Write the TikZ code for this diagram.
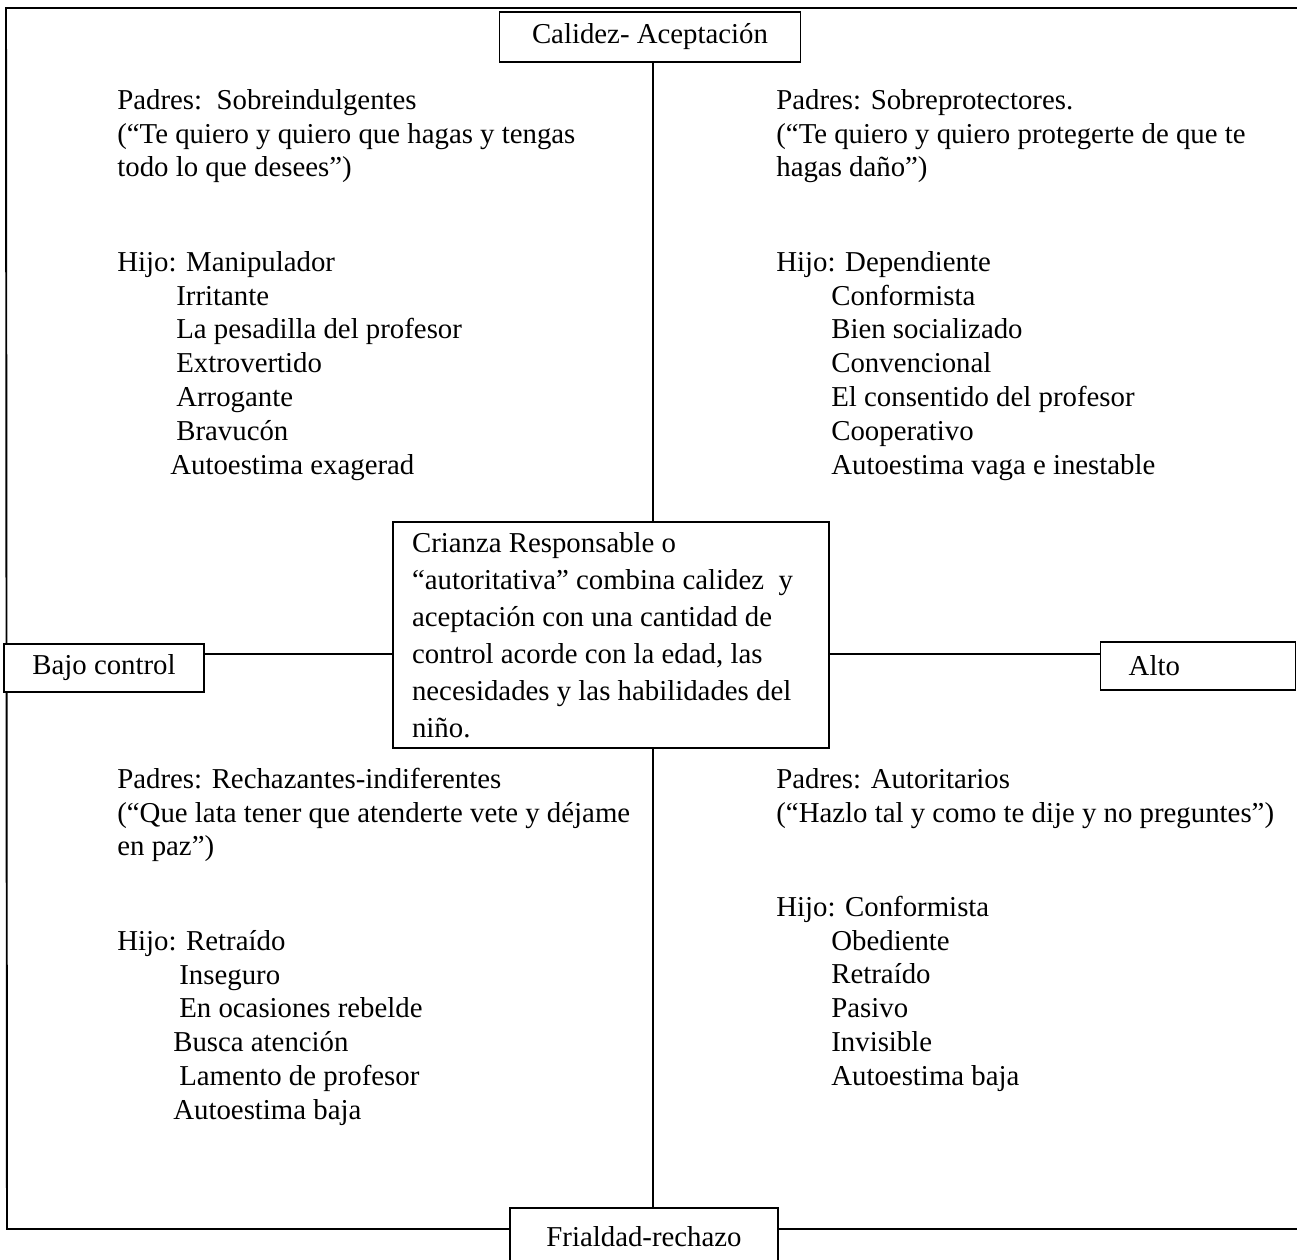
\documentclass[tikz,border=0pt]{standalone}
\usepackage{fontspec}
\setmainfont{Liberation Serif}
\usepackage{tikz}

\begin{document}
\begin{tikzpicture}[x=0.02cm,y=-0.02cm,
  txt/.style={anchor=north west,inner sep=0pt,align=left,font=\fontsize{16.4pt}{19.3pt}\selectfont},
  caja/.style={draw,line width=0.8pt,fill=white,inner sep=0pt,font=\fontsize{16.4pt}{19.3pt}\selectfont},
  marco/.style={line width=1.1pt},
  eje h/.style={line width=1.3pt},
  eje v/.style={line width=0.75pt}]

\useasboundingbox (0,0) rectangle (1297,1259);
\clip (0,0) rectangle (1297,1259);

% outer frame
\draw[marco] (1297,8) -- (6,8) -- (7,1229) -- (1297,1229);

\coordinate (eje) at (653,654);

% axis boxes
\node at (650,37) [caja,minimum width=6.02cm,minimum height=1cm] (calidez) {Calidez- Aceptación};
\node at (644,1237) [caja,minimum width=5.36cm,minimum height=1.16cm] (frialdad) {Frialdad-rechazo};
\node at (104,668) [caja,minimum width=4cm,minimum height=0.96cm] (bajo) {Bajo control};
\node at (1100,666) [caja,anchor=west,minimum height=0.96cm,text width=2.78cm,inner xsep=0.56cm,align=flush left] (alto) {Alto};

\node at (611,635) [caja,minimum width=8.72cm,minimum height=4.52cm,text width=7.96cm,inner xsep=0.38cm,align=flush left,
  font=\fontsize{16.4pt}{21pt}\selectfont] (crianza)
  {Crianza Responsable o\\
   “autoritativa” combina calidez\ \ y\\
   aceptación con una cantidad de\\
   control acorde con la edad, las\\
   necesidades y las habilidades del\\
   niño.};

% axes
\draw[eje v] (calidez.south -| eje) -- (crianza.north -| eje)
             (crianza.south -| eje) -- (frialdad.north -| eje);
\draw[eje h] (bajo.east |- eje) -- (crianza.west |- eje)
             (crianza.east |- eje) -- (alto.west |- eje);

% top left
\node at (117,85) [txt] (padresSI) {\strut Padres:\ \ Sobreindulgentes\\
  (“Te quiero y quiero que hagas y tengas\\
  todo lo que desees”)};
\node at (117,247) [txt] (hijoSI) {\strut Hijo: Manipulador\\
  \hspace*{1.18cm}Irritante\\
  \hspace*{1.18cm}La pesadilla del profesor\\
  \hspace*{1.18cm}Extrovertido\\
  \hspace*{1.18cm}Arrogante\\
  \hspace*{1.18cm}Bravucón\\
  \hspace*{1.06cm}Autoestima exagerad};

% top right
\node at (776,85) [txt] (padresSP) {\strut Padres: Sobreprotectores.\\
  (“Te quiero y quiero protegerte de que te\\
  hagas daño”)};
\node at (776,247) [txt] (hijoSP) {\strut Hijo: Dependiente\\
  \hspace*{1.1cm}Conformista\\
  \hspace*{1.1cm}Bien socializado\\
  \hspace*{1.1cm}Convencional\\
  \hspace*{1.1cm}El consentido del profesor\\
  \hspace*{1.1cm}Cooperativo\\
  \hspace*{1.1cm}Autoestima vaga e inestable};

% bottom left
\node at (117,764) [txt] (padresRI) {\strut Padres: Rechazantes-indiferentes\\
  (“Que lata tener que atenderte vete y déjame\\
  en paz”)};
\node at (117,926) [txt] (hijoRI) {\strut Hijo: Retraído\\
  \hspace*{1.24cm}Inseguro\\
  \hspace*{1.24cm}En ocasiones rebelde\\
  \hspace*{1.12cm}Busca atención\\
  \hspace*{1.24cm}Lamento de profesor\\
  \hspace*{1.12cm}Autoestima baja};

% bottom right
\node at (776,764) [txt] (padresAU) {\strut Padres: Autoritarios\\
  (“Hazlo tal y como te dije y no preguntes”)};
\node at (776,892) [txt] (hijoAU) {\strut Hijo: Conformista\\
  \hspace*{1.1cm}Obediente\\
  \hspace*{1.1cm}Retraído\\
  \hspace*{1.1cm}Pasivo\\
  \hspace*{1.1cm}Invisible\\
  \hspace*{1.1cm}Autoestima baja};

\end{tikzpicture}
\end{document}
